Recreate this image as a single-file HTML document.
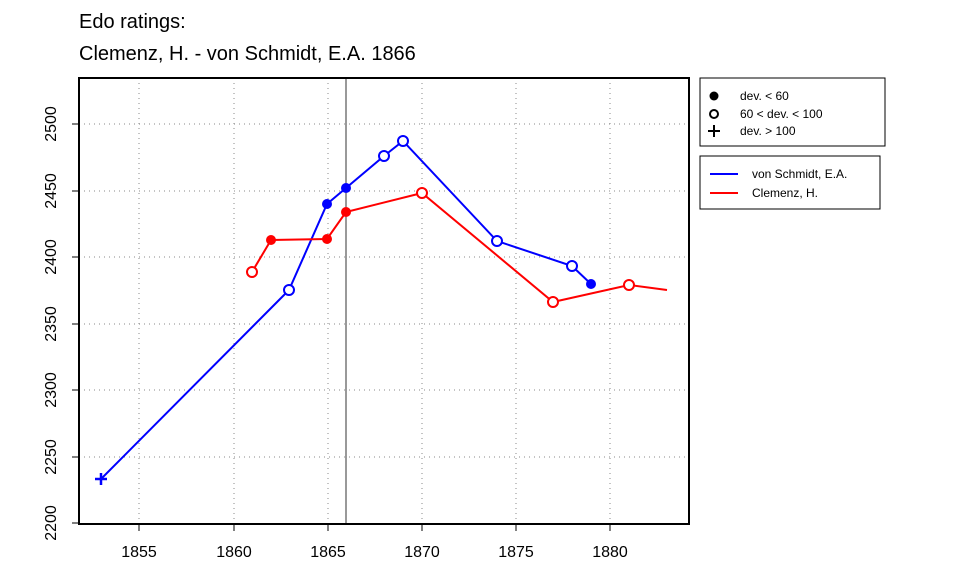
<!DOCTYPE html>
<html><head><meta charset="utf-8"><style>body{margin:0;background:#fff}</style></head>
<body>
<svg width="960" height="576" xmlns="http://www.w3.org/2000/svg" font-family="Liberation Sans, Arial, sans-serif">
<rect width="960" height="576" fill="#fff"/>
<text x="79" y="28" font-size="20">Edo ratings:</text>
<text x="79" y="60" font-size="20">Clemenz, H. - von Schmidt, E.A. 1866</text>
<g stroke="#888" stroke-dasharray="1,4" stroke-width="1">
<line x1="139" y1="78" x2="139" y2="524"/><line x1="234" y1="78" x2="234" y2="524"/>
<line x1="328" y1="78" x2="328" y2="524"/><line x1="422" y1="78" x2="422" y2="524"/>
<line x1="516" y1="78" x2="516" y2="524"/><line x1="610" y1="78" x2="610" y2="524"/>
<line x1="79" y1="124" x2="689" y2="124"/><line x1="79" y1="191" x2="689" y2="191"/>
<line x1="79" y1="257" x2="689" y2="257"/><line x1="79" y1="324" x2="689" y2="324"/>
<line x1="79" y1="390" x2="689" y2="390"/><line x1="79" y1="457" x2="689" y2="457"/>
</g>
<line x1="346" y1="78" x2="346" y2="524" stroke="#333" stroke-width="1"/>
<polyline fill="none" stroke="#00f" stroke-width="2" points="101,479 289,290 327,204 346,188 384,156 403,141 497,241 572,266 591,284"/>
<polyline fill="none" stroke="#f00" stroke-width="2" points="252,272 271,240 327,239 346,212 422,193 553,302 629,285 667,290"/>
<g stroke="#00f" stroke-width="2.5">
<line x1="95" y1="479" x2="107" y2="479"/><line x1="101" y1="473" x2="101" y2="485"/>
</g>
<g fill="#fff" stroke="#00f" stroke-width="2">
<circle cx="289" cy="290" r="5"/><circle cx="384" cy="156" r="5"/><circle cx="403" cy="141" r="5"/><circle cx="497" cy="241" r="5"/><circle cx="572" cy="266" r="5"/>
</g>
<g fill="#00f"><circle cx="327" cy="204" r="5"/><circle cx="346" cy="188" r="5"/><circle cx="591" cy="284" r="5"/></g>
<g fill="#fff" stroke="#f00" stroke-width="2">
<circle cx="252" cy="272" r="5"/><circle cx="422" cy="193" r="5"/><circle cx="553" cy="302" r="5"/><circle cx="629" cy="285" r="5"/>
</g>
<g fill="#f00"><circle cx="271" cy="240" r="5"/><circle cx="327" cy="239" r="5"/><circle cx="346" cy="212" r="5"/></g>
<rect x="79" y="78" width="610" height="446" fill="none" stroke="#000" stroke-width="2"/>
<g stroke="#000"><line x1="139" y1="524" x2="139" y2="531"/><line x1="234" y1="524" x2="234" y2="531"/><line x1="328" y1="524" x2="328" y2="531"/><line x1="422" y1="524" x2="422" y2="531"/><line x1="516" y1="524" x2="516" y2="531"/><line x1="610" y1="524" x2="610" y2="531"/></g>
<g font-size="16" text-anchor="middle">
<text x="139" y="557">1855</text><text x="234" y="557">1860</text><text x="328" y="557">1865</text><text x="422" y="557">1870</text><text x="516" y="557">1875</text><text x="610" y="557">1880</text>
</g>
<g stroke="#000"><line x1="72" y1="124" x2="79" y2="124"/><line x1="72" y1="191" x2="79" y2="191"/><line x1="72" y1="257" x2="79" y2="257"/><line x1="72" y1="324" x2="79" y2="324"/><line x1="72" y1="390" x2="79" y2="390"/><line x1="72" y1="457" x2="79" y2="457"/><line x1="72" y1="523" x2="79" y2="523"/></g>
<g font-size="16" text-anchor="middle">
<text transform="translate(56,124) rotate(-90)">2500</text><text transform="translate(56,191) rotate(-90)">2450</text><text transform="translate(56,257) rotate(-90)">2400</text><text transform="translate(56,324) rotate(-90)">2350</text><text transform="translate(56,390) rotate(-90)">2300</text><text transform="translate(56,457) rotate(-90)">2250</text><text transform="translate(56,523) rotate(-90)">2200</text>
</g>
<rect x="700" y="78" width="185" height="68" fill="#fff" stroke="#000"/>
<circle cx="714" cy="96" r="4.5" fill="#000"/>
<circle cx="714" cy="114" r="4" fill="none" stroke="#000" stroke-width="2"/>
<g stroke="#000" stroke-width="2"><line x1="708" y1="131" x2="720" y2="131"/><line x1="714" y1="125" x2="714" y2="137"/></g>
<g font-size="12"><text x="740" y="100">dev. &lt; 60</text><text x="740" y="118">60 &lt; dev. &lt; 100</text><text x="740" y="135">dev. &gt; 100</text></g>
<rect x="700" y="156" width="180" height="53" fill="#fff" stroke="#000"/>
<line x1="710" y1="174" x2="738" y2="174" stroke="#00f" stroke-width="2"/>
<line x1="710" y1="193" x2="738" y2="193" stroke="#f00" stroke-width="2"/>
<g font-size="12"><text x="752" y="178">von Schmidt, E.A.</text><text x="752" y="197">Clemenz, H.</text></g>
</svg>
</body></html>
